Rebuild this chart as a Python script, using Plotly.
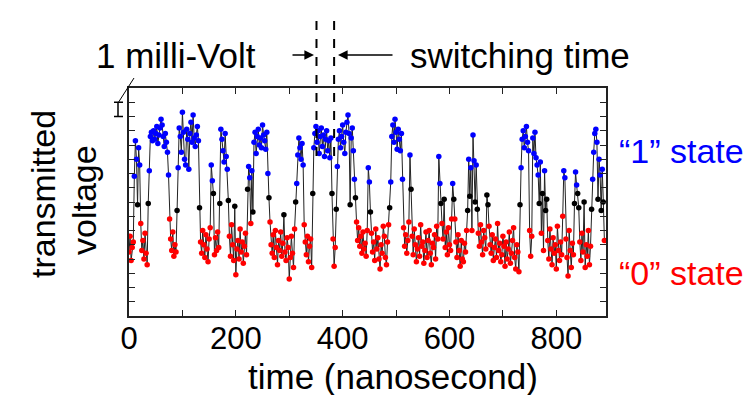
import plotly.graph_objects as go

# ---- data (mV, sampled every 2 ns) ----
sample_step_ns = 2
v_000_090 = [4.5, 5.6, 3.9, 4.8, 5.2,
             9.8, 12.3, 11.0, 7.8, 11.8, 10.6, 6.5,
             4.6, 5.3, 4.0, 5.8, 4.4, 3.6, 7.9,
             10.2, 12.6, 12.9, 12.3, 13.0, 12.4, 12.8, 13.3, 12.1, 12.7, 13.2, 13.8, 13.4, 12.6, 11.9, 12.8, 12.2, 11.5, 9.9,
             6.8, 5.4, 4.6, 5.9, 4.2, 5.0, 4.5, 7.4]
v_092_220 = [10.4, 13.2, 12.6, 11.5, 14.3, 12.9, 11.0, 10.6, 13.1, 12.4, 10.3, 12.8, 13.6, 12.2, 14.1, 12.5, 11.9, 12.7, 13.3, 12.3,
             7.6,
             5.2, 4.4, 6.0, 5.0, 4.1, 5.7, 4.7, 3.8, 5.4, 6.2, 10.6, 9.5, 8.6, 4.3, 5.5, 4.6, 5.9, 4.8,
             7.9, 13.1, 12.4, 11.6, 10.8, 12.8, 11.2, 10.3, 8.1,
             5.6, 4.2, 6.4, 5.0, 3.9, 7.7, 2.9, 4.7, 5.3, 4.0, 6.1, 4.5, 5.2, 3.7, 4.9, 5.8, 4.3]
v_222_422 = [8.9, 10.5, 9.7, 6.5, 10.2,
             7.3, 12.2, 12.9, 11.4, 12.6, 13.1, 12.0, 12.5, 11.8, 13.4, 12.7, 12.3, 11.7, 12.9, 10.0,
             8.3, 6.6,
             5.0, 4.4, 5.7, 4.1, 6.0, 4.8, 3.6, 5.3, 4.6, 5.9, 4.2, 5.1, 7.1, 4.5, 3.9, 5.5, 4.8, 2.6, 4.1, 5.6, 4.4, 3.4, 6.1,
             8.0, 9.3, 11.3, 12.5, 11.8, 11.0, 12.1, 10.6,
             6.4, 5.2, 4.3, 5.6, 3.8, 4.9, 5.4, 3.4,
             8.6,
             11.8, 12.8, 13.3, 12.2, 13.0, 11.4, 12.6, 13.2, 11.9, 12.7, 11.2, 12.4, 13.0, 11.6, 12.3, 11.1, 12.5,
             8.6, 5.4, 3.5, 4.8, 7.5,
             10.5, 12.4, 13.0, 11.8, 12.6, 13.4, 12.2, 11.4, 12.9, 13.6, 14.1, 12.8, 7.8, 12.5, 13.2, 11.6, 9.6]
v_424_632 = [8.3, 6.6, 5.3, 6.2, 4.9, 5.6, 4.4, 5.9, 4.7, 5.1, 4.2, 6.0,
             10.4, 9.4,
             7.3, 5.8, 4.5, 5.2, 3.9, 6.1, 4.7, 5.5, 4.0, 3.3, 5.0, 4.4, 6.3, 5.6, 4.1, 3.6, 5.2, 6.4, 7.6,
             9.4, 12.6, 13.4, 12.2, 13.8, 12.9, 11.7, 13.1, 12.4, 11.6, 12.8, 9.6,
             6.2, 4.9, 5.7, 4.4, 5.3, 6.6,
             11.3, 8.9,
             5.6, 4.3, 6.1, 5.0, 3.8, 4.7, 5.5, 4.2, 6.4, 4.9, 5.2, 3.7, 4.6, 5.9, 4.1, 5.3, 6.0, 4.4, 3.6, 5.1, 4.8, 5.7, 4.0, 6.3, 5.4,
             11.2, 9.3,
             7.9, 6.5, 5.4, 8.2, 4.8, 5.9, 4.3, 6.2, 5.0, 4.6, 6.8,
             9.3, 8.2,
             6.8, 5.2, 4.1, 5.7, 4.6, 3.5, 5.3, 4.0, 3.8, 5.1, 4.5, 6.0]
v_634_890 = [7.4, 11.0, 8.4, 10.4, 6.0, 12.7, 10.9, 8.0, 10.6,
             7.5, 5.8, 4.9, 6.4, 5.2, 4.3, 6.0, 5.5, 4.7,
             8.5, 7.8,
             6.3, 5.0, 4.4, 5.7, 3.9, 4.8, 5.4, 4.1, 6.5, 4.6, 5.1, 3.8, 4.3, 5.6, 4.9, 3.5, 5.2, 4.0, 4.7, 5.9, 3.7, 4.4, 5.3, 6.2, 4.1, 3.3, 5.0, 4.5, 3.1,
             7.8,
             10.4, 12.4, 13.0, 11.8, 12.6, 13.3, 12.2, 11.6, 6.0, 4.2, 5.6, 12.5, 11.4, 12.9, 11.1, 10.6,
             9.9, 7.9, 10.8, 5.8, 8.6, 4.6, 10.2, 7.4,
             8.2, 5.3, 4.0, 6.1, 4.7, 3.6, 5.5, 4.4, 5.0, 3.3, 6.3, 4.6, 3.9, 5.2, 4.3, 7.0,
             10.2, 9.7,
             5.4, 4.1, 2.8, 6.0, 4.6, 3.4, 5.1, 4.3,
             7.9, 10.1, 9.2,
             8.6, 7.6, 5.2, 3.9, 5.8, 4.5, 8.0, 3.4, 5.0, 4.2, 6.0, 3.6, 4.9,
             7.5, 9.6, 11.5, 12.8, 13.1, 12.2, 8.2, 11.0, 9.9, 7.4, 10.3, 8.0,
             5.3]

voltage = v_000_090 + v_092_220 + v_222_422 + v_424_632 + v_634_890
time_ns = [i * sample_step_ns for i in range(len(voltage))]

high_threshold = 9.0   # "1" state
low_threshold = 7.05   # "0" state
x_tick_vals = [0, 100, 200, 300, 400, 500, 600, 700, 800]
x_tick_text = ["0", "", "200", "", "400", "", "600", "", "800"]
switch_marks = [351, 384]

BLUE = "#0000ff"
RED = "#ff0000"
colors = [BLUE if v >= high_threshold else (RED if v <= low_threshold else "#000000") for v in voltage]

FONT = "Liberation Sans, Arial, sans-serif"

fig = go.Figure()
fig.add_trace(go.Scatter(
    x=time_ns, y=voltage, mode="lines+markers",
    line=dict(color="#222222", width=1),
    marker=dict(color=colors, size=5.5, line=dict(width=0)),
    showlegend=False, hoverinfo="skip"))

W, H = 754, 395
L, R, T, B = 121, 156, 80, 87
pw, ph = W - L - R, H - T - B


def px(x):
    return (x - L) / pw


def py(y):
    return (H - B - y) / ph


fig.update_layout(
    width=W, height=H, margin=dict(l=L, r=R, t=T, b=B),
    paper_bgcolor="white", plot_bgcolor="white",
    font=dict(family=FONT, color="black"),
    xaxis=dict(range=[0, 893], tickvals=x_tick_vals, ticktext=x_tick_text,
               ticks="inside", ticklen=6, tickwidth=1.2, tickcolor="#222",
               showline=True, linecolor="#222", linewidth=1.5, mirror="allticks",
               showgrid=False, zeroline=False, tickfont=dict(size=31, family=FONT),
               ticklabelstandoff=-6),
    yaxis=dict(range=[0, 16], dtick=1, tick0=0, showticklabels=False,
               ticks="inside", ticklen=6, tickwidth=1.2, tickcolor="#222",
               showline=True, linecolor="#222", linewidth=1.5, mirror="allticks",
               showgrid=False, zeroline=False),
)

shapes = []
# switching-time dashed lines
for xs in switch_marks:
    shapes.append(dict(type="line", xref="x", yref="paper", x0=xs, x1=xs,
                       y0=py(148), y1=py(10), line=dict(color="black", width=2, dash="dash")))
# 1 mV scale bar
bx = px(110)
shapes.append(dict(type="line", xref="paper", yref="y", x0=bx, x1=bx, y0=14, y1=15,
                   line=dict(color="black", width=1.5)))
for yy in (14, 15):
    shapes.append(dict(type="line", xref="paper", yref="y", x0=px(106), x1=px(115), y0=yy, y1=yy,
                       line=dict(color="black", width=1.5)))
shapes.append(dict(type="line", xref="paper", yref="paper", x0=px(110), x1=px(126),
                   y0=py(95), y1=py(70), line=dict(color="black", width=1)))
fig.update_layout(shapes=shapes)

ann = [
    dict(text="1 milli-Volt", x=px(86), y=py(47), xanchor="left", yanchor="middle", font=dict(size=35)),
    dict(text="switching time", x=px(400), y=py(47), xanchor="left", yanchor="middle", font=dict(size=35)),
    dict(text="time (nanosecond)", x=px(385), y=py(368), xanchor="center", yanchor="middle", font=dict(size=35)),
    dict(text="transmitted", x=px(35), y=py(186), xanchor="center", yanchor="middle", textangle=-90, font=dict(size=34)),
    dict(text="voltage", x=px(76), y=py(192), xanchor="center", yanchor="middle", textangle=-90, font=dict(size=34)),
    dict(text="\u201c1\u201d state", x=px(609), y=py(143), xanchor="left", yanchor="middle", font=dict(size=34, color=BLUE)),
    dict(text="\u201c0\u201d state", x=px(609), y=py(265), xanchor="left", yanchor="middle", font=dict(size=34, color=RED)),
    dict(text="", x=px(306), y=py(47), ax=-23, ay=0, showarrow=True, arrowhead=2, arrowsize=1.2, arrowwidth=1.6, arrowcolor="black"),
    dict(text="", x=px(330), y=py(47), ax=56, ay=0, showarrow=True, arrowhead=2, arrowsize=1.2, arrowwidth=1.6, arrowcolor="black"),
]
for a in ann:
    a.setdefault("xref", "paper")
    a.setdefault("yref", "paper")
    a.setdefault("showarrow", False)
fig.update_layout(annotations=ann)

fig.write_html("out.html")
